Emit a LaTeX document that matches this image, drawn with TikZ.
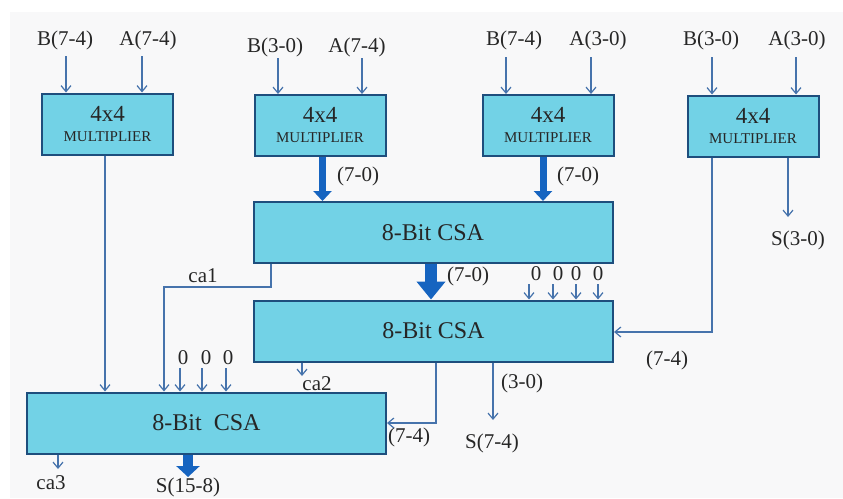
\documentclass[tikz,border=0pt]{standalone}
\usepackage{fontspec}
\setmainfont{Liberation Serif}
\usetikzlibrary{arrows.meta}
\definecolor{boxfill}{RGB}{114,210,230}
\definecolor{boxline}{RGB}{30,78,125}
\definecolor{thinc}{RGB}{70,115,172}
\definecolor{thickc}{RGB}{22,100,192}
\definecolor{bgc}{RGB}{248,248,249}
\begin{document}
\begin{tikzpicture}[x=1pt,y=-1pt,
  mult/.style={draw=boxline, line width=2pt, fill=boxfill, minimum width=131pt, minimum height=61pt, inner sep=0pt, align=center, font=\fontsize{15}{20}\selectfont, text=black!85},
  csa/.style={draw=boxline, line width=2pt, fill=boxfill, minimum width=359pt, minimum height=61pt, inner sep=0pt, font=\fontsize{24}{24}\selectfont, text=black!85},
  lbl/.style={inner sep=0pt, font=\fontsize{21}{21}\selectfont, text=black!85},
  arr/.style={draw=thinc, line width=1.2pt, -{Straight Barb[length=6pt,width=10pt]}},
  busa/.style={draw=thickc, line width=7pt, -{Triangle[length=10pt,width=18pt]}},
  busb/.style={draw=thickc, line width=12pt, -{Triangle[length=18pt,width=28pt]}},
  busc/.style={draw=thickc, line width=10pt, -{Triangle[length=11pt,width=23pt]}}
]
\fill[white] (0,0) rectangle (843,498);
\fill[bgc] (10,12) rectangle (843,498);
\useasboundingbox (0,0) rectangle (843,498);

% boxes
\node[mult] (m1) at (107.5,124) {{\fontsize{23}{20}\selectfont 4x4}\\MULTIPLIER};
\node[mult] (m2) at (320,125.5) {{\fontsize{23}{20}\selectfont 4x4}\\MULTIPLIER};
\node[mult] (m3) at (548,125.5) {{\fontsize{23}{20}\selectfont 4x4}\\MULTIPLIER};
\node[mult] (m4) at (753,126) {{\fontsize{23}{20}\selectfont 4x4}\\MULTIPLIER};
\node[csa] (csa1) at (433,232.5) {8-Bit CSA};
\node[csa] (csa2) at (433.5,331) {8-Bit CSA};
\node[csa] (csa3) at (206.5,423) {8-Bit\ \ CSA};

% input labels
\node[lbl] (b1) at (65,40) {B(7-4)};
\node[lbl] (a1) at (148,40) {A(7-4)};
\node[lbl] (b2) at (275,47) {B(3-0)};
\node[lbl] (a2) at (357,47) {A(7-4)};
\node[lbl] (b3) at (514,40) {B(7-4)};
\node[lbl] (a3) at (598,40) {A(3-0)};
\node[lbl] (b4) at (711,40) {B(3-0)};
\node[lbl] (a4) at (797,40) {A(3-0)};

% input arrows
\coordinate (ib1) at (66,56);  \draw[arr] (ib1) -- (ib1 |- m1.north);
\coordinate (ia1) at (142,56); \draw[arr] (ia1) -- (ia1 |- m1.north);
\coordinate (ib2) at (278,58); \draw[arr] (ib2) -- (ib2 |- m2.north);
\coordinate (ia2) at (362,58); \draw[arr] (ia2) -- (ia2 |- m2.north);
\coordinate (ib3) at (506,57); \draw[arr] (ib3) -- (ib3 |- m3.north);
\coordinate (ia3) at (591,57); \draw[arr] (ia3) -- (ia3 |- m3.north);
\coordinate (ib4) at (712,57); \draw[arr] (ib4) -- (ib4 |- m4.north);
\coordinate (ia4) at (796,57); \draw[arr] (ia4) -- (ia4 |- m4.north);

% buses
\coordinate (x2) at (322.5,0);
\draw[busa] (x2 |- m2.south) -- (x2 |- csa1.north);
\coordinate (x3) at (543,0);
\draw[busa] (x3 |- m3.south) -- (x3 |- csa1.north);
\coordinate (x12) at (431,0);
\draw[busb] (x12 |- csa1.south) -- (x12 |- csa2.north);
\coordinate (sout) at (188,477);
\draw[busc] (sout |- csa3.south) -- (sout);

\node[lbl] (l70a) at (358,176) {(7-0)};
\node[lbl] (l70b) at (578,176) {(7-0)};
\node[lbl] (l70c) at (468,276) {(7-0)};

% M1 output
\coordinate (xm1) at (105,0);
\draw[arr] (xm1 |- m1.south) -- (xm1 |- csa3.north);

% ca1
\coordinate (c1) at (271,287);
\coordinate (c1b) at (164,287);
\draw[arr] (c1 |- csa1.south) -- (c1) -- (c1b) -- (c1b |- csa3.north);
\node[lbl] (ca1) at (203,276) {ca1};

% zeros into CSA3
\node[lbl] (z31) at (183,358) {0};
\node[lbl] (z32) at (206,358) {0};
\node[lbl] (z33) at (228,358) {0};
\coordinate (q31) at (180,368); \draw[arr] (q31) -- (q31 |- csa3.north);
\coordinate (q32) at (202,368); \draw[arr] (q32) -- (q32 |- csa3.north);
\coordinate (q33) at (226,368); \draw[arr] (q33) -- (q33 |- csa3.north);

% zeros into CSA2
\node[lbl] (z21) at (536,274) {0};
\node[lbl] (z22) at (558,274) {0};
\node[lbl] (z23) at (576,274) {0};
\node[lbl] (z24) at (598,274) {0};
\coordinate (q21) at (529,284); \draw[arr] (q21) -- (q21 |- csa2.north);
\coordinate (q22) at (553,284); \draw[arr] (q22) -- (q22 |- csa2.north);
\coordinate (q23) at (576,284); \draw[arr] (q23) -- (q23 |- csa2.north);
\coordinate (q24) at (598,284); \draw[arr] (q24) -- (q24 |- csa2.north);

% M4 outputs
\coordinate (m4a) at (712,332);
\draw[arr] (m4a |- m4.south) -- (m4a) -- (m4a -| csa2.east);
\node[lbl] (l74a) at (667,360) {(7-4)};
\coordinate (m4b) at (788,217);
\draw[arr] (m4b |- m4.south) -- (m4b);
\node[lbl] (s30) at (798,240) {S(3-0)};

% CSA2 outputs
\coordinate (c2) at (302,376);
\draw[arr] (c2 |- csa2.south) -- (c2);
\node[lbl] (ca2) at (317,384) {ca2};
\coordinate (k74) at (436,423);
\draw[arr] (k74 |- csa2.south) -- (k74) -- (k74 -| csa3.east);
\node[lbl] (l74b) at (409,437) {(7-4)};
\coordinate (k30) at (493,420);
\draw[arr] (k30 |- csa2.south) -- (k30);
\node[lbl] (l30) at (522,383) {(3-0)};
\node[lbl] (s74) at (492,443) {S(7-4)};

% CSA3 outputs
\coordinate (c3) at (58,469);
\draw[arr] (c3 |- csa3.south) -- (c3);
\node[lbl] (ca3) at (51,483) {ca3};
\node[lbl] (s158) at (188,487) {S(15-8)};
\end{tikzpicture}
\end{document}
